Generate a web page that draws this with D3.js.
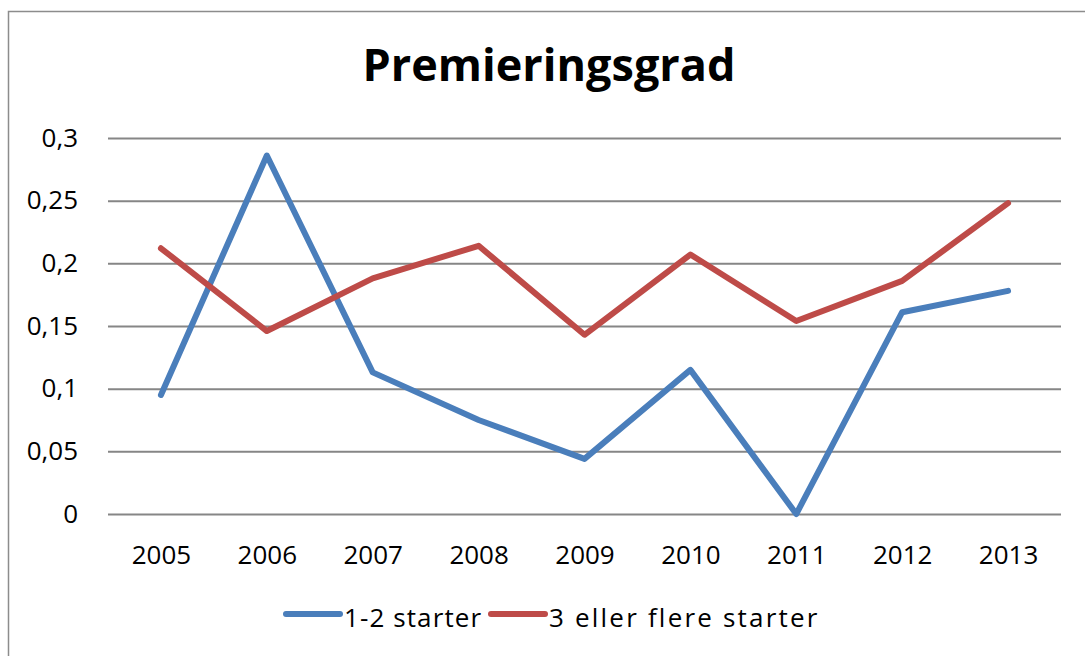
<!DOCTYPE html>
<html>
<head>
<meta charset="utf-8">
<script src="https://cdn.jsdelivr.net/npm/d3@7"></script>
<style>
  body { margin: 0; background: #fff; }
  text { font-family: "Open Sans", "Liberation Sans", sans-serif; fill: #000; }
</style>
</head>
<body>
<svg id="chart" width="1085" height="656"></svg>
<script>
// Data
const years = ["2005", "2006", "2007", "2008", "2009", "2010", "2011", "2012", "2013"];
const starter12 = [0.095, 0.286, 0.113, 0.075, 0.044, 0.115, 0.0, 0.161, 0.178];
const starter3plus = [0.212, 0.146, 0.188, 0.214, 0.143, 0.207, 0.154, 0.186, 0.248];
const yTicks = [0, 0.05, 0.1, 0.15, 0.2, 0.25, 0.3];
const seriesNames = ["1-2 starter", "3 eller flere starter"];
const colors = ["#4a7ebb", "#be4b48"];

const svg = d3.select('#chart');

// outer frame
svg.append('rect')
    .attr('x', 8.5).attr('y', 11.5)
    .attr('width', 1090).attr('height', 660)
    .attr('fill', 'none')
    .attr('stroke', '#8c8c8c')
    .attr('stroke-width', 1.5);

const plot = { left: 108, right: 1061, top: 138, bottom: 514 };

const x = d3.scalePoint()
    .domain(years)
    .range([plot.left, plot.right])
    .padding(0.5);

const y = d3.scaleLinear()
    .domain([0, 0.3])
    .range([plot.bottom, plot.top]);

const fmt = d => String(d).replace('.', ',');

// gridlines + y labels
const yAxis = d3.axisLeft(y)
    .tickValues(yTicks)
    .tickSize(-(plot.right - plot.left))
    .tickPadding(30)
    .tickFormat(fmt);

const gy = svg.append('g')
    .attr('transform', `translate(${plot.left},0)`)
    .call(yAxis);
gy.select('.domain').remove();
gy.selectAll('.tick line').attr('stroke', '#868686').attr('stroke-width', 2);
gy.selectAll('.tick text').attr('font-size', 26).attr('fill', '#000');

// x labels
const xAxis = d3.axisBottom(x).tickSize(0).tickPadding(32);
const gx = svg.append('g')
    .attr('transform', `translate(0,${plot.bottom})`)
    .call(xAxis);
gx.select('.domain').remove();
gx.selectAll('.tick text').attr('font-size', 26).attr('fill', '#000');

// lines
const line = d3.line()
    .x((d, i) => x(years[i]))
    .y(d => y(d));

[starter12, starter3plus].forEach((s, k) => {
    svg.append('path')
        .datum(s)
        .attr('d', line)
        .attr('fill', 'none')
        .attr('stroke', colors[k])
        .attr('stroke-width', 6)
        .attr('stroke-linejoin', 'round')
        .attr('stroke-linecap', 'round');
});

// title
svg.append('text')
    .attr('x', 549).attr('y', 81)
    .attr('text-anchor', 'middle')
    .attr('font-size', 45)
    .attr('font-weight', 'bold')
    .text('Premieringsgrad');

// legend
const legendX = [286, 491];
const spacing = [1.1, 2.2];
seriesNames.forEach((name, k) => {
    const lg = svg.append('g').attr('transform', `translate(${legendX[k]},614)`);
    lg.append('line')
        .attr('x1', 0).attr('x2', 54)
        .attr('y1', 0).attr('y2', 0)
        .attr('stroke', colors[k])
        .attr('stroke-width', 6)
        .attr('stroke-linecap', 'round');
    lg.append('text')
        .attr('x', 58).attr('y', 13)
        .attr('font-size', 26)
        .attr('letter-spacing', spacing[k])
        .text(name);
});
</script>
</body>
</html>
